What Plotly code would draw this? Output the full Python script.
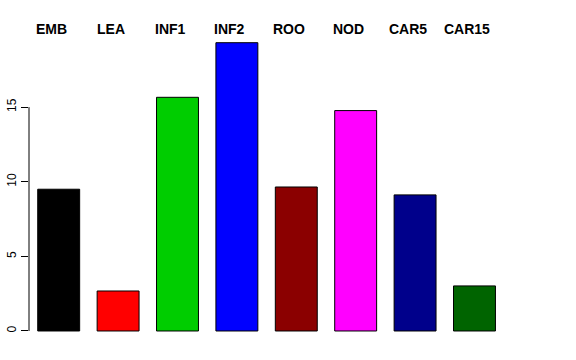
import plotly.graph_objects as go

categories = ["EMB", "LEA", "INF1", "INF2", "ROO", "NOD", "CAR5", "CAR15"]
values = [9.5, 2.68, 15.66, 19.32, 9.65, 14.77, 9.12, 3.02]
colors = ["#000000", "#FF0000", "#00CD00", "#0000FF", "#8B0000", "#FF00FF", "#00008B", "#006400"]
y_ticks = [0, 5, 10, 15]

fig = go.Figure()
fig.add_trace(go.Bar(
    x=categories, y=values,
    marker=dict(color=colors, line=dict(color="#000000", width=1)),
    showlegend=False,
))

for c in categories:
    fig.add_annotation(x=c, y=1.037, xref="x", yref="paper", text="<b>%s</b>" % c,
                       showarrow=False, xshift=-7, yanchor="middle",
                       font=dict(family="Liberation Sans, Arial", size=14, color="#000000"))

fig.add_shape(type="line", xref="paper", yref="y", x0=0, x1=0, y0=y_ticks[0], y1=y_ticks[-1],
              line=dict(color="#000000", width=1))

fig.update_layout(
    width=576, height=360,
    margin=dict(l=29, r=16, t=40, b=22, autoexpand=False),
    paper_bgcolor="white", plot_bgcolor="white",
    bargap=0.294,
    font=dict(family="Liberation Sans, Arial", color="#000000"),
    xaxis=dict(range=[-0.5, 8.44], showticklabels=False, showline=False, showgrid=False,
               zeroline=False, ticks="", automargin=False),
    yaxis=dict(range=[-0.47, 19.5], tickvals=y_ticks, ticks="outside", ticklen=7,
               tickwidth=1, tickcolor="#000000", showline=False, showgrid=False,
               zeroline=False, tickangle=-90, automargin=False,
               tickfont=dict(size=12, color="#000000")),
)

fig.write_html("out.html", config={"displayModeBar": False},
               post_script="document.body.style.margin='0';document.body.style.padding='0';")
